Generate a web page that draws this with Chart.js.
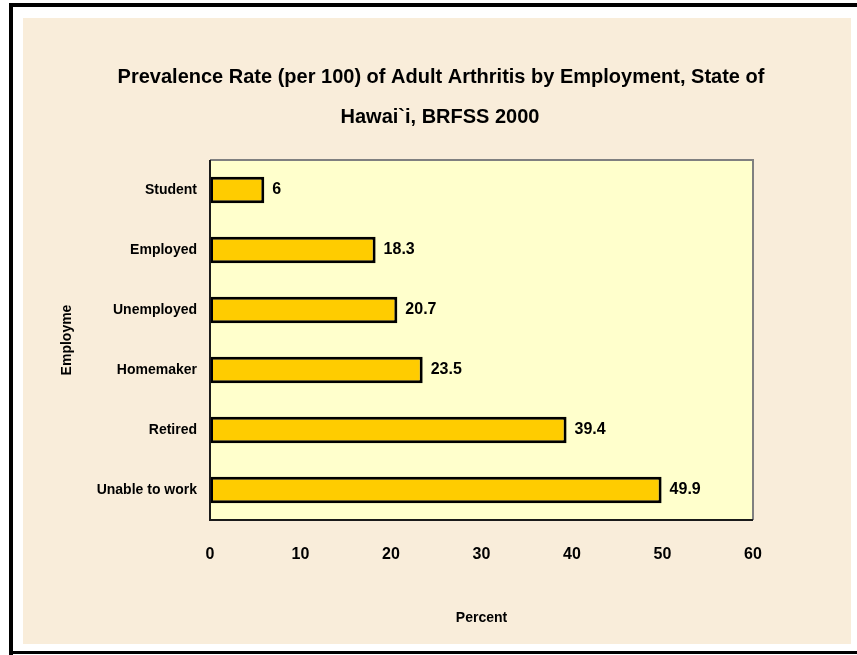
<!DOCTYPE html>
<html lang="en">
<head>
  <meta charset="UTF-8" />
  <title>Adult Arthritis by Employment</title>
  <script src="https://cdn.jsdelivr.net/npm/chart.js"></script>
  <style>
    body { margin: 0; background: #fff; }
    #wrap { width: 857px; height: 655px; }
  </style>
</head>
<body>
  <div id="wrap"><canvas id="arthritisChart" width="857" height="655"></canvas></div>

  <script>
    const categories = ['Student', 'Employed', 'Unemployed', 'Homemaker', 'Retired', 'Unable to work'];
    const rates = [6, 18.3, 20.7, 23.5, 39.4, 49.9];
    const xTicks = [0, 10, 20, 30, 40, 50, 60];
    const titleLines = ['Prevalence Rate (per 100) of Adult Arthritis by Employment, State of', 'Hawai`i, BRFSS 2000'];

    const FONT = 'Liberation Sans, Arial, sans-serif';

    // frame, paper colour, plot fill, title and bar value labels
    const decor = {
      id: 'decor',
      beforeDraw(chart) {
        const { ctx, chartArea: a } = chart;
        ctx.save();
        ctx.fillStyle = '#ffffff';
        ctx.fillRect(0, 0, 857, 655);
        ctx.fillStyle = '#F9EDDA';
        ctx.fillRect(23, 18, 828, 626);
        ctx.fillStyle = '#000';
        ctx.fillRect(9, 3, 848, 4);
        ctx.fillRect(9, 3, 4, 652);
        ctx.fillRect(9, 651, 848, 3);
        ctx.fillStyle = '#FFFFCC';
        ctx.fillRect(a.left, a.top, a.width, a.height);

        ctx.fillStyle = '#000';
        ctx.font = 'bold 20px ' + FONT;
        ctx.textAlign = 'center';
        ctx.textBaseline = 'middle';
        ctx.fillText(titleLines[0], 441, 77);
        ctx.fillText(titleLines[1], 440, 117);
        ctx.restore();
      },
      afterDatasetsDraw(chart) {
        const { ctx, chartArea: a } = chart;
        ctx.save();
        ctx.lineWidth = 2;
        ctx.strokeStyle = '#808080';
        ctx.beginPath();
        ctx.moveTo(a.left, a.top);
        ctx.lineTo(a.right, a.top);
        ctx.lineTo(a.right, a.bottom);
        ctx.stroke();
        ctx.strokeStyle = '#1a1a1a';
        ctx.beginPath();
        ctx.moveTo(a.left, a.top);
        ctx.lineTo(a.left, a.bottom);
        ctx.lineTo(a.right, a.bottom);
        ctx.stroke();

        ctx.fillStyle = '#000';
        ctx.font = 'bold 16px ' + FONT;
        ctx.textAlign = 'left';
        ctx.textBaseline = 'middle';
        chart.getDatasetMeta(0).data.forEach((bar, i) => {
          ctx.fillText(String(rates[i]), bar.x + 8, bar.y);
        });
        ctx.restore();
      }
    };

    const ctx = document.getElementById('arthritisChart').getContext('2d');
    new Chart(ctx, {
      type: 'bar',
      data: {
        labels: categories,
        datasets: [{
          data: rates,
          backgroundColor: '#FFCC00',
          borderColor: '#000',
          borderWidth: 3,
          borderSkipped: false,
          barPercentage: 0.44,
          categoryPercentage: 1
        }]
      },
      options: {
        indexAxis: 'y',
        responsive: false,
        animation: false,
        layout: { padding: { left: 23, top: 160, right: 104, bottom: 20 } },
        plugins: {
          legend: { display: false },
          tooltip: { enabled: false }
        },
        scales: {
          x: {
            min: 0,
            max: 60,
            afterFit(scale) { scale.height = 115; },
            afterBuildTicks(scale) { scale.ticks = xTicks.map(v => ({ value: v })); },
            grid: { display: false },
            border: { display: false },
            ticks: { color: '#000', padding: 17, font: { family: FONT, size: 16, weight: 'bold' } },
            title: {
              display: true, text: 'Percent', color: '#000',
              padding: { top: 0, bottom: 8 },
              font: { family: FONT, size: 14, weight: 'bold' }
            }
          },
          y: {
            afterFit(scale) { scale.width = 187; },
            grid: { display: false },
            border: { display: false },
            ticks: { color: '#000', padding: 5, font: { family: FONT, size: 14, weight: 'bold' } },
            title: {
              display: true, text: 'Employme', color: '#000',
              padding: { top: 36, bottom: 0 },
              font: { family: FONT, size: 14, weight: 'bold' }
            }
          }
        }
      },
      plugins: [decor]
    });
  </script>
</body>
</html>
